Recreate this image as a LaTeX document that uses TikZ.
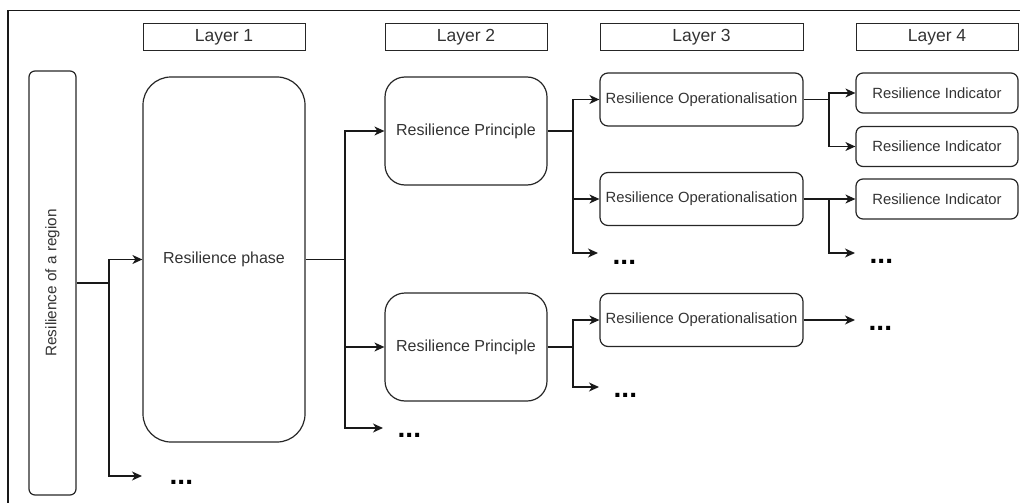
\documentclass[tikz,border=0pt]{standalone}
\usepackage{graphicx}
\usepackage{fontspec}
\setmainfont{Liberation Sans}
\usetikzlibrary{arrows.meta}

\begin{document}
\begin{tikzpicture}[x=1pt,y=-1pt,
   box/.style={draw=black!85,line width=1.2pt,inner sep=0pt,align=center,text=black!80,font=\fontsize{14.8}{17}\selectfont},
   layer/.style={draw=black!85,line width=1pt,inner sep=0pt,minimum height=27pt,text=black!80,font=\fontsize{17.5}{20}\selectfont},
   conn/.style={draw=black!90,line width=1.3pt},
   arr/.style={conn,-{Stealth[length=10pt,width=9pt,inset=3pt]}},
   more/.style={anchor=west,inner sep=0pt,font=\fontsize{28}{30}\selectfont\bfseries}]

   \useasboundingbox (0,0) rectangle (1020,503);
   \draw[conn] (8,503) -- (8,10.5) -- (1020,10.5);

   \node[layer,minimum width=162pt] (layerA) at (224,37.5) {Layer 1};
   \node[layer,minimum width=162pt] (layerB) at (466,37.5) {Layer 2};
   \node[layer,minimum width=203pt] (layerC) at (701.5,37.5) {Layer 3};
   \node[layer,minimum width=162pt] (layerD) at (937,37.5) {Layer 4};

   \node[box,rounded corners=6pt,minimum width=47pt,minimum height=424pt,font=\fontsize{15.3}{18}\selectfont] (region) at (52.5,283) {\rotatebox{90}{Resilience of a region}};
   \node[box,rounded corners=28pt,minimum width=162pt,minimum height=365pt,font=\fontsize{16}{19}\selectfont] (phase) at (224,259.5) {Resilience phase};

   \node[box,rounded corners=20pt,minimum width=162pt,minimum height=108pt,font=\fontsize{16}{19}\selectfont] (prinA) at (466,131) {Resilience Principle};
   \node[box,rounded corners=20pt,minimum width=162pt,minimum height=108pt,font=\fontsize{16}{19}\selectfont] (prinB) at (466,347) {Resilience Principle};

   \node[box,rounded corners=8pt,minimum width=203pt,minimum height=53pt] (operA) at (701.5,99.5) {Resilience Operationalisation};
   \node[box,rounded corners=8pt,minimum width=203pt,minimum height=53pt] (operB) at (701.5,199) {Resilience Operationalisation};
   \node[box,rounded corners=8pt,minimum width=203pt,minimum height=53pt] (operC) at (701.5,320) {Resilience Operationalisation};

   \node[box,rounded corners=7pt,minimum width=162pt,minimum height=40pt] (indA) at (937,93) {Resilience Indicator};
   \node[box,rounded corners=7pt,minimum width=162pt,minimum height=40pt] (indB) at (937,146.5) {Resilience Indicator};
   \node[box,rounded corners=7pt,minimum width=162pt,minimum height=40pt] (indC) at (937,199) {Resilience Indicator};

   \coordinate (splitA) at (109,283);
   \coordinate (splitB) at (345,259.5);
   \coordinate (splitC) at (573,131);
   \coordinate (splitD) at (829,99.5);
   \coordinate (splitE) at (829,199);
   \coordinate (splitF) at (573,347);

   \coordinate (endA) at (142,476);
   \coordinate (endB) at (383,428);
   \coordinate (endC) at (598,253);
   \coordinate (endD) at (855,253);
   \coordinate (endE) at (599,387);
   \coordinate (endF) at (855,320);

   \draw[arr] (region.east) -- (splitA) |- (phase.west);
   \draw[arr] (splitA) |- (endA);

   \draw[arr] (phase.east) -- (splitB) |- (prinA.west);
   \draw[arr] (splitB) |- (prinB.west);
   \draw[arr] (splitB) |- (endB);

   \draw[arr] (prinA.east) -- (splitC) |- (operA.west);
   \draw[arr] (splitC) |- (operB.west);
   \draw[arr] (splitC) |- (endC);

   \draw[arr] (operA.east) -- (splitD) |- (indA.west);
   \draw[arr] (splitD) |- (indB.west);

   \draw[arr] (operB.east) -- (indC.west);
   \draw[arr] (splitE) |- (endD);

   \draw[arr] (prinB.east) -- (splitF) |- (operC.west);
   \draw[arr] (splitF) |- (endE);

   \draw[arr] (operC.east) -- (endF);

   \node[more] (moreA) at (169.5,482) {...};
   \node[more] (moreB) at (397.5,435) {...};
   \node[more] (moreC) at (612.5,262) {...};
   \node[more] (moreD) at (869.5,261) {...};
   \node[more] (moreE) at (613.5,395) {...};
   \node[more] (moreF) at (868.5,328) {...};
\end{tikzpicture}
\end{document}
